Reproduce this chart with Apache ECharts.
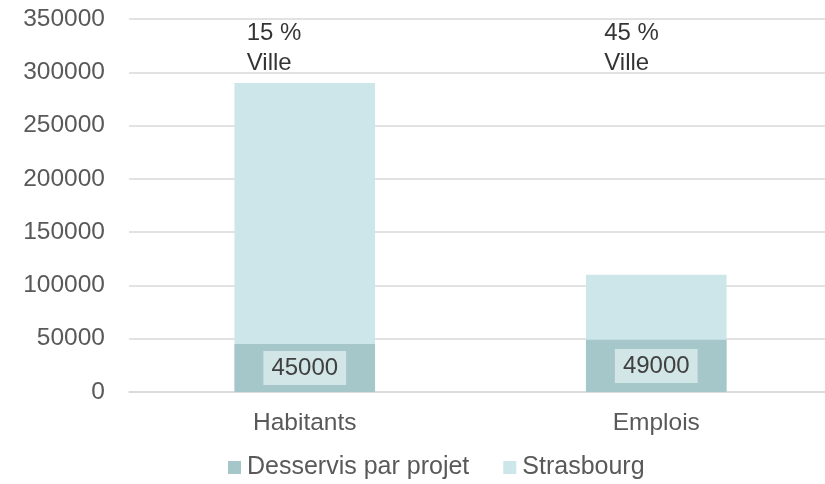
<!DOCTYPE html>
<html>
<head>
<meta charset="utf-8">
<script src="https://cdn.jsdelivr.net/npm/echarts@6/dist/echarts.min.js"></script>
<style>
  html, body { margin: 0; padding: 0; background: #fff; }
  #chart { width: 825px; height: 484px; }
</style>
</head>
<body>
<div id="chart"></div>
<script>
// catégories et valeurs
var categories = ['Habitants', 'Emplois'];
var desservis = [45000, 49000];
var strasbourg = [290000, 110000];
var partVille = ['15 %', '45 %'];
var yTicks = [0, 50000, 100000, 150000, 200000, 250000, 300000, 350000];

var font = '"Liberation Sans", Arial, sans-serif';
var axisMax = yTicks[yTicks.length - 1];

var myChart = echarts.init(document.getElementById('chart'));

// décalage horizontal des libellés "Ville" (pas tout à fait centrés dans l'original)
var shiftX = [-58, -52];

var option = {
    animation: false,
    textStyle: { fontFamily: font },
    // la zone de tracé déborde un peu à droite comme dans l'original
    grid: { left: 129, width: 703, top: 19, bottom: 92, outerBoundsMode: 'none' },
    legend: {
        data: ['Desservis par projet', 'Strasbourg'],
        top: 455,
        left: 228,
        padding: 0,
        itemWidth: 13,
        itemHeight: 13,
        itemGap: 34,
        icon: 'rect',
        textStyle: { fontSize: 25, color: '#595959', fontFamily: font, padding: [0, 0, 0, 1] }
    },
    xAxis: {
        type: 'category',
        data: categories,
        axisLine: { lineStyle: { color: '#d9d9d9', width: 1.5 } },
        axisTick: { show: false },
        axisLabel: { fontSize: 24.5, color: '#595959', margin: 19 }
    },
    yAxis: {
        type: 'value',
        min: 0,
        max: axisMax,
        interval: yTicks[1] - yTicks[0],
        axisLine: { show: false },
        axisTick: { show: false },
        splitLine: { lineStyle: { color: '#d9d9d9', width: 1.5 } },
        axisLabel: {
            fontSize: 24.5,
            color: '#595959',
            margin: 24,
            formatter: function (v) { return String(v); }
        }
    },
    series: [
        {
            name: 'Strasbourg',
            type: 'bar',
            data: strasbourg,
            barWidth: '40%',
            itemStyle: { color: '#cde6ea' },
            z: 1
        },
        {
            name: 'Desservis par projet',
            type: 'bar',
            data: desservis,
            barWidth: '40%',
            barGap: '-100%',
            itemStyle: { color: '#a5c7ca' },
            z: 2,
            label: {
                show: true,
                position: 'inside',
                fontSize: 24,
                color: '#404040',
                backgroundColor: '#d3e6e7',
                padding: [6, 8, 4, 8]
            }
        },
        {
            // libellés "xx %\nVille" en haut de chaque colonne
            name: 'part',
            type: 'scatter',
            symbolSize: 0,
            silent: true,
            data: categories.map(function (c, i) {
                return { value: [c, axisMax], label: { position: [shiftX[i], -1] } };
            }),
            label: {
                show: true,
                align: 'left',
                verticalAlign: 'top',
                fontSize: 24,
                lineHeight: 30,
                color: '#000',
                formatter: function (p) { return partVille[p.dataIndex] + '\nVille'; }
            },
            z: 3
        }
    ]
};

myChart.setOption(option);
</script>
</body>
</html>
